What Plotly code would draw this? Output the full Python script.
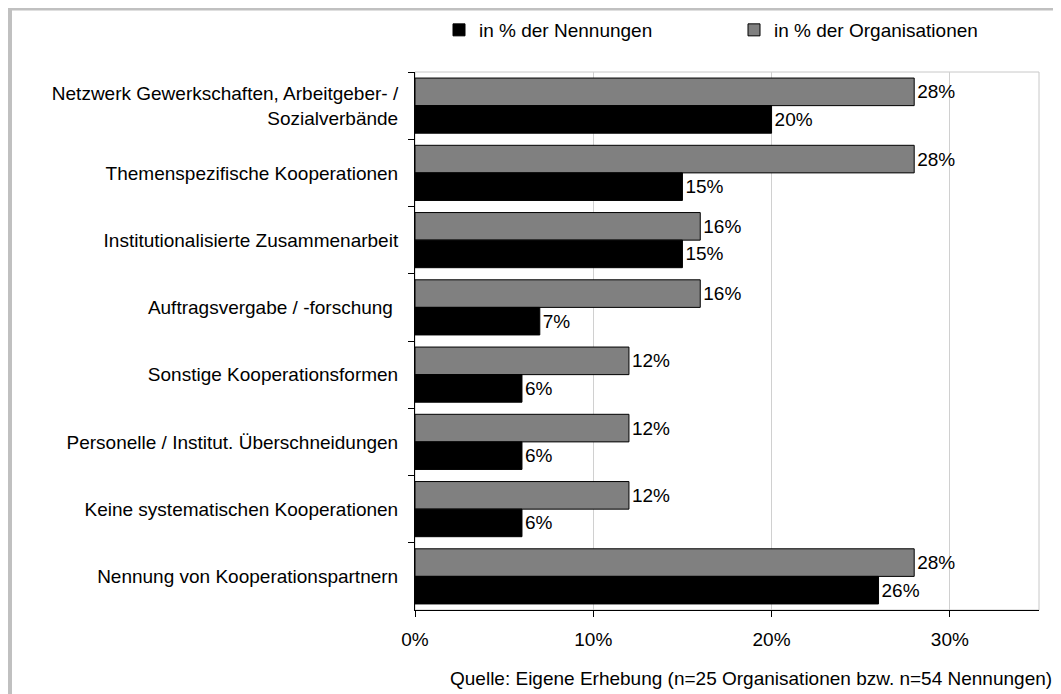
import plotly.graph_objects as go

categories = [
    "Netzwerk Gewerkschaften, Arbeitgeber- /<br>Sozialverbände",
    "Themenspezifische Kooperationen",
    "Institutionalisierte Zusammenarbeit",
    "Auftragsvergabe / -forschung ",
    "Sonstige Kooperationsformen",
    "Personelle / Institut. Überschneidungen",
    "Keine systematischen Kooperationen",
    "Nennung von Kooperationspartnern",
]
pct_nennungen = [0.20, 0.15, 0.15, 0.07, 0.06, 0.06, 0.06, 0.26]
pct_organisationen = [0.28, 0.28, 0.16, 0.16, 0.12, 0.12, 0.12, 0.28]
x_ticks = [0, 0.1, 0.2, 0.3]
x_ticklabels = ["0%", "10%", "20%", "30%"]
source_note = "Quelle: Eigene Erhebung (n=25 Organisationen bzw. n=54 Nennungen)."

FONT = "Liberation Sans, Arial, sans-serif"
FS = 19

fig = go.Figure()
fig.add_trace(go.Bar(
    y=categories, x=pct_organisationen, orientation="h",
    name="in % der Organisationen",
    marker=dict(color="#808080", line=dict(color="#000000", width=1)),
    text=[f"{round(v*100)}%" for v in pct_organisationen],
    textposition="outside", cliponaxis=False,
    textfont=dict(family=FONT, size=FS, color="#000000"),
    legendrank=2,
))
fig.add_trace(go.Bar(
    y=categories, x=pct_nennungen, orientation="h",
    name="in % der Nennungen",
    marker=dict(color="#000000", line=dict(color="#000000", width=1)),
    text=[f"{round(v*100)}%" for v in pct_nennungen],
    textposition="outside", cliponaxis=False,
    textfont=dict(family=FONT, size=FS, color="#000000"),
    legendrank=1,
))

# page has an 8px body margin; figure is sized to fit the window
OFF = 8
W, H = 1061 - OFF, 694 - OFF
ml, mr, mt, mb = 415 - OFF, 22, 72 - OFF, 84
pw, ph = W - ml - mr, H - mt - mb

def px_x(p):  # page pixel -> paper
    return (p - OFF - ml) / pw

def px_y(p):
    return (H - mb - (p - OFF)) / ph

fig.update_layout(
    width=W, height=H, autosize=False,
    margin=dict(l=ml, r=mr, t=mt, b=mb, pad=0, autoexpand=False),
    barmode="group", bargap=0.18, bargroupgap=0,
    plot_bgcolor="#ffffff", paper_bgcolor="#ffffff",
    font=dict(family=FONT, size=FS, color="#000000"),
    showlegend=True,
    legend=dict(orientation="h", xref="container", yref="container",
                x=(734 - OFF) / W, xanchor="center",
                y=1 - (30 - OFF) / H, yanchor="middle",
                font=dict(family=FONT, size=FS), traceorder="normal",
                itemwidth=30, entrywidth=250, bgcolor="rgba(0,0,0,0)"),
)
fig.update_xaxes(
    range=[0, 0.35], tickvals=x_ticks, ticktext=x_ticklabels,
    showgrid=True, gridcolor="#d0d0d0", gridwidth=1,
    showline=True, linecolor="#000000", linewidth=1,
    ticks="outside", ticklen=6, tickcolor="#000000",
    tickfont=dict(family=FONT, size=FS), ticklabelstandoff=6,
    zeroline=False, fixedrange=True, automargin=False,
)
fig.update_yaxes(
    autorange="reversed", type="category",
    showline=True, linecolor="#000000", linewidth=1,
    ticks="outside", ticklen=6, tickcolor="#000000", tickson="boundaries",
    tickfont=dict(family=FONT, size=FS), ticklabelstandoff=12,
    showgrid=False, fixedrange=True, automargin=False,
)
# plot area border (gray, right and top)
fig.add_shape(type="rect", xref="paper", yref="paper", x0=0, x1=1, y0=0, y1=1,
              line=dict(color="#c8c8c8", width=1), layer="below")
# outer frame (gray lines left and top)
fig.add_shape(type="line", xref="paper", yref="paper",
              x0=px_x(10), x1=px_x(10), y0=px_y(7.5), y1=px_y(720),
              line=dict(color="#c0c0c0", width=4))
fig.add_shape(type="line", xref="paper", yref="paper",
              x0=px_x(8), x1=px_x(1080), y0=px_y(9), y1=px_y(9),
              line=dict(color="#c0c0c0", width=3))
fig.add_annotation(text=source_note, xref="paper", yref="paper",
                   x=px_x(1059), y=px_y(678), xanchor="right", yanchor="middle",
                   showarrow=False, font=dict(family=FONT, size=FS))

fig.write_html("out.html")
